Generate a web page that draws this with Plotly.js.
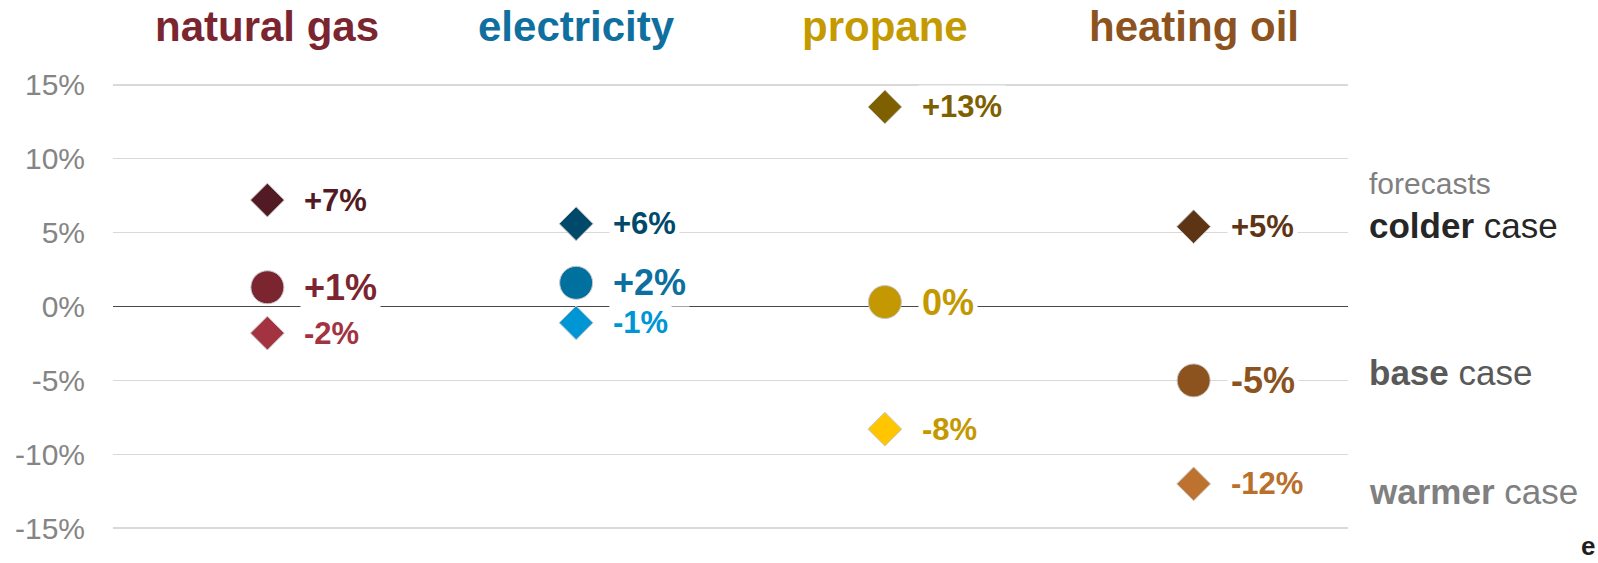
<!DOCTYPE html>
<html>
<head>
<meta charset="utf-8">
<script src="https://cdn.plot.ly/plotly-3.0.1.min.js"></script>
<style>
  html, body { margin: 0; padding: 0; background: #fff; }
  #chart { width: 1598px; height: 563px; }
</style>
</head>
<body>
<div id="chart"></div>
<script>
// ---- data ----
const categories = ['natural gas', 'electricity', 'propane', 'heating oil'];
const colderValues = [7.2, 5.6, 13.5, 5.4];
const baseValues = [1.3, 1.6, 0.3, -5.0];
const warmerValues = [-1.8, -1.1, -8.3, -12.0];
const colderLabels = ['+7%', '+6%', '+13%', '+5%'];
const baseLabels = ['+1%', '+2%', '0%', '-5%'];
const warmerLabels = ['-2%', '-1%', '-8%', '-12%'];
const yTickValues = [-15, -10, -5, 0, 5, 10, 15];
const yTickLabels = ['-15%', '-10%', '-5%', '0%', '5%', '10%', '15%'];
const caseNotes = ['forecasts', '<b>colder</b> case', '<b>base</b> case', '<b>warmer</b> case'];

// ---- styles ----
const titleColors = ['#7b2531', '#0f6f9f', '#c49a00', '#8c5320'];
const colderColors = ['#521a22', '#00496a', '#7f6000', '#5d3515'];
const baseColors = ['#7b2531', '#00709f', '#c49800', '#8c531f'];
const warmerColors = ['#a33340', '#0096d6', '#ffc600', '#bd732f'];
const colderTextColors = ['#521a22', '#00496a', '#7f6000', '#5d3515'];
const baseTextColors = ['#7b2531', '#0b6f9f', '#c49800', '#8c531f'];
const warmerTextColors = ['#a33340', '#0096d6', '#c49800', '#b9702d'];
const FONT = 'Arial, "Liberation Sans", sans-serif';

function markerTrace(values, colors, symbol, size) {
  return {
    type: 'scatter', mode: 'markers', x: categories, y: values,
    marker: { symbol: symbol, size: size, color: colors, line: { color: '#c8c8c8', width: 1 } },
    hoverinfo: 'skip', showlegend: false, cliponaxis: false
  };
}

const data = [
  markerTrace(colderValues, colderColors, 'diamond', 26),
  markerTrace(baseValues, baseColors, 'circle', 33),
  markerTrace(warmerValues, warmerColors, 'diamond', 26)
];

const annotations = [];
function addLabels(values, labels, colors, size) {
  values.forEach((v, i) => {
    annotations.push({
      x: categories[i], y: v, xref: 'x', yref: 'y', text: '<b>' + labels[i] + '</b>',
      showarrow: false, xanchor: 'left', yanchor: 'middle', xshift: 33,
      bgcolor: '#ffffff', borderpad: 3,
      font: { family: FONT, size: size, color: colors[i] }
    });
  });
}
addLabels(colderValues, colderLabels, colderTextColors, 31);
addLabels(baseValues, baseLabels, baseTextColors, 36);
addLabels(warmerValues, warmerLabels, warmerTextColors, 31);

categories.forEach((c, i) => {
  annotations.push({
    x: c, y: 1.091, xref: 'x', yref: 'paper', text: '<b>' + c + '</b>',
    showarrow: false, xanchor: 'center', yanchor: 'middle',
    font: { family: FONT, size: 42, color: titleColors[i] }
  });
});

// right-side case notes
const noteY = [8.35, 5.45, -4.45, -12.5];
const noteColors = ['#808080', '#262626', '#595959', '#808080'];
const noteSizes = [30, 35, 35, 35];
caseNotes.forEach((t, i) => {
  annotations.push({
    x: 1.0155, y: noteY[i], xref: 'paper', yref: 'y', text: t,
    showarrow: false, xanchor: 'left', yanchor: 'middle',
    font: { family: FONT, size: noteSizes[i], color: noteColors[i] }
  });
});

// small logo glyph at bottom-right corner
annotations.push({
  x: 1.2016, y: -0.042, xref: 'paper', yref: 'paper', text: '<b>e</b>',
  showarrow: false, xanchor: 'right', yanchor: 'bottom',
  font: { family: FONT, size: 26, color: '#1f1f1f' }
});

const layout = {
  width: 1598, height: 563,
  margin: { l: 113, r: 250, t: 70, b: 20 },
  paper_bgcolor: '#ffffff', plot_bgcolor: '#ffffff',
  hovermode: false,
  font: { family: FONT },
  xaxis: {
    type: 'category', range: [-0.5, 3.5], showgrid: false, zeroline: false,
    showticklabels: false, showline: false, fixedrange: true
  },
  yaxis: {
    range: [-16, 16], tickvals: yTickValues, ticktext: yTickLabels,
    showgrid: true, gridcolor: '#d9d9d9', gridwidth: 1.5,
    zeroline: true, zerolinecolor: '#484848', zerolinewidth: 1.5,
    showline: false, ticks: 'outside', ticklen: 21, tickcolor: 'rgba(0,0,0,0)',
    tickfont: { family: FONT, size: 30, color: '#858585' }, fixedrange: true
  },
  annotations: annotations
};

Plotly.newPlot('chart', data, layout, { displayModeBar: false, staticPlot: true });
</script>
</body>
</html>
